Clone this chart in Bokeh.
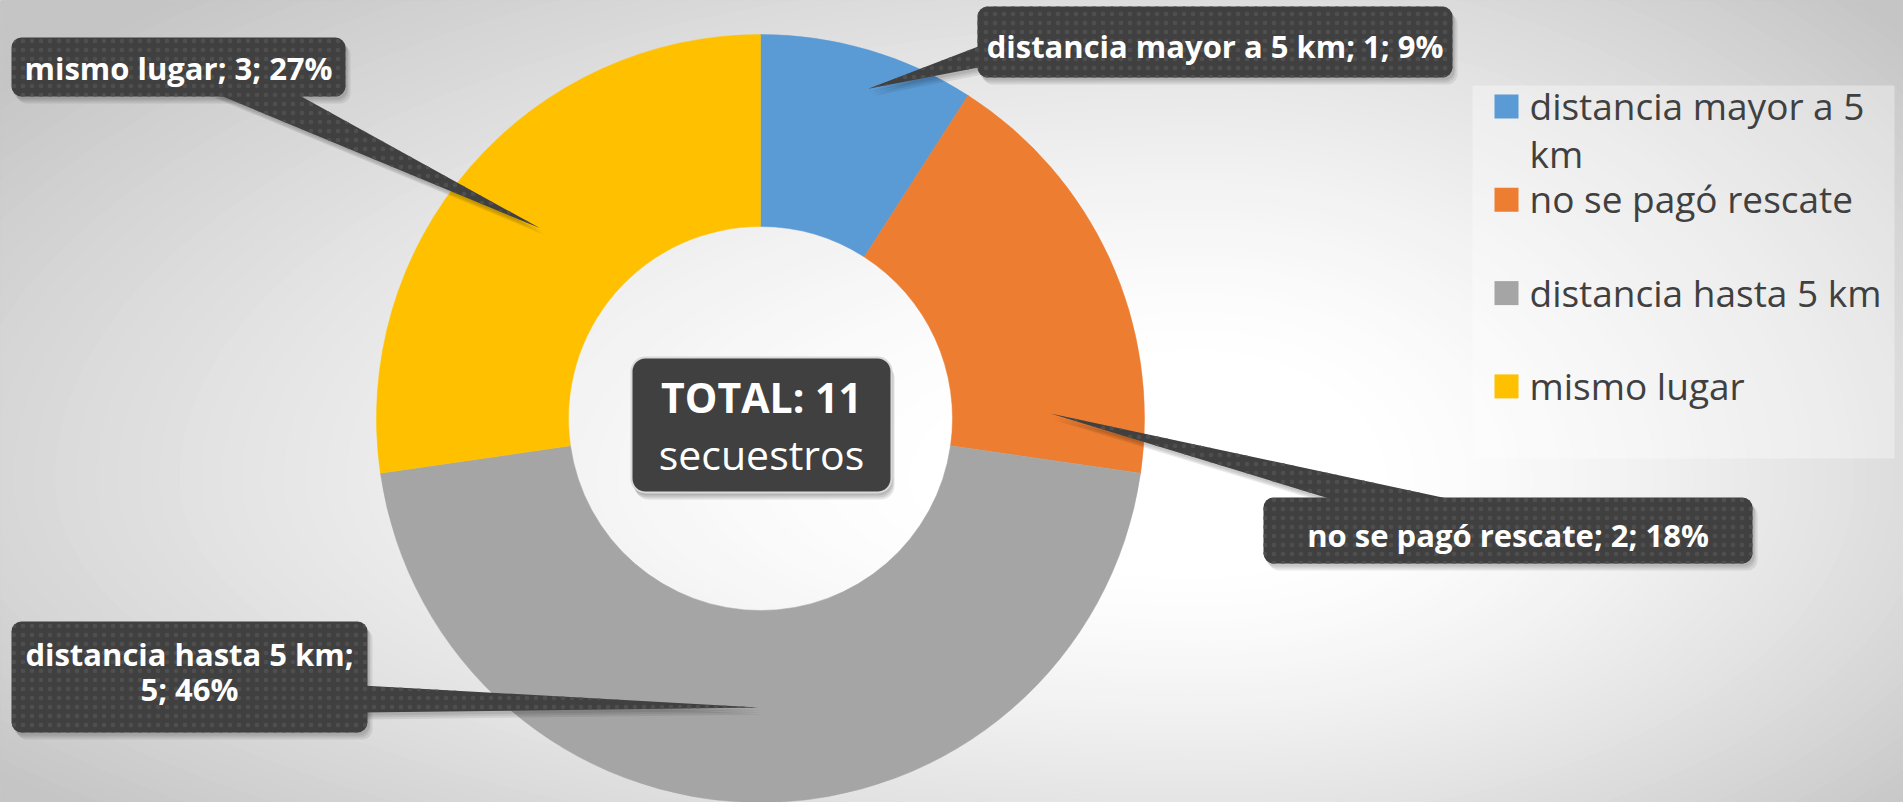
import math
import textwrap
import numpy as np
from bokeh.plotting import figure
from bokeh.models import Range1d, ColumnDataSource
from bokeh.embed import file_html
from bokeh.resources import INLINE
from bokeh.core.properties import value

# ---------------- data ----------------
categories = ["distancia mayor a 5 km", "no se pagó rescate", "distancia hasta 5 km", "mismo lugar"]
counts = [1, 2, 5, 3]
pct_labels = ["9%", "18%", "46%", "27%"]
slice_colors = ["#5B9BD5", "#ED7D31", "#A5A5A5", "#FFC000"]
center_unit = "secuestros"

# ---------------- layout (reference pixel coords, y downward) ----------------
REF_W, REF_H = 1903, 802
FIG_W, FIG_H = REF_W, REF_H
TEXT_DY = -13  # baseline correction for rendered text


def Y(v):
    return REF_H - v


def TY(v):
    return REF_H - (v + TEXT_DY)


CX, CY, R_OUT, R_IN = 760, 418, 384, 192
FONT = "Open Sans"
BOX_COLOR = "#404040"
DOT = dict(hatch_pattern="dot", hatch_color="#4f4f4f", hatch_scale=9, hatch_weight=1.5)

# callout layout per category: box (l, r, t, b), pointer base points, tip (angle cw from top, radius),
# wrap flag, text baselines
callouts = [
    dict(box=(977, 1452, 6, 77), base=((983, 44), (983, 66)), tip=(18.1, 347), wrap=False, base_y=[58]),
    dict(box=(1263, 1752, 497, 563), base=((1345, 503), (1470, 503)), tip=(89.0, 290), wrap=False, base_y=[547]),
    dict(box=(11, 367, 621, 732), base=((361, 685), (361, 712)), tip=(180.4, 289), wrap=True, base_y=[666, 701]),
    dict(box=(11, 345, 37, 96), base=((208, 90), (290, 90)), tip=(310.8, 291), wrap=False, base_y=[80]),
]

p = figure(width=FIG_W, height=FIG_H, output_backend="svg", toolbar_location=None,
           x_range=Range1d(0, REF_W), y_range=Range1d(0, REF_H),
           x_axis_type=None, y_axis_type=None, min_border=0)
p.grid.visible = False
p.outline_line_color = None

# ---------------- background gradient (asymmetric radial) ----------------
gcx, gcy = 1200, 480
rxL, rxR, ryT, ryB = 1250, 800, 560, 420


def shade(d):
    t = min(max((d - 0.2) / 1.0, 0.0), 1.0)
    v = int(round(255 - 58 * t ** 1.4))
    return "#%02x%02x%02x" % (v, v, v)


p.background_fill_color = shade(1.4)
levels = np.linspace(1.35, 0.2, 70)
th = np.linspace(0, 2 * np.pi, 100)
bxs, bys, bcs = [], [], []
for d in levels:
    xs = [gcx + (rxR if c >= 0 else rxL) * d * c for c in np.cos(th)]
    ys = [gcy + (ryB if s >= 0 else ryT) * d * s for s in np.sin(th)]
    bxs.append(xs)
    bys.append([Y(v) for v in ys])
    bcs.append(shade(d))
p.patches(xs=bxs, ys=bys, fill_color=bcs, line_color=None)

# legend panel
p.quad(left=1472, right=1894, top=Y(85), bottom=Y(458), fill_color="white", fill_alpha=0.35, line_color=None)

# ---------------- donut ----------------
total = sum(counts)
fr = np.array(counts, dtype=float) / total
cum = np.concatenate([[0.0], np.cumsum(fr)])
src = ColumnDataSource(dict(
    start=list(np.pi / 2 - 2 * np.pi * cum[1:]),
    end=list(np.pi / 2 - 2 * np.pi * cum[:-1]),
    color=slice_colors,
    cat=categories,
))
p.annular_wedge(x=CX, y=Y(CY), inner_radius=R_IN, outer_radius=R_OUT,
                start_angle="start", end_angle="end", fill_color="color",
                line_color="color", line_width=0.5, source=src)

# ---------------- callouts ----------------
ptr_xs, ptr_ys = [], []
box_l, box_r, box_t, box_b = [], [], [], []
lab_x, lab_y, lab_t = [], [], []
for cat, cnt, pct, co in zip(categories, counts, pct_labels, callouts):
    l, r, t, b = co["box"]
    a, rad = co["tip"]
    tx = CX + rad * math.sin(math.radians(a))
    ty = CY - rad * math.cos(math.radians(a))
    (b1x, b1y), (b2x, b2y) = co["base"]
    ptr_xs.append([b1x, b2x, tx])
    ptr_ys.append([Y(b1y), Y(b2y), Y(ty)])
    box_l.append(l); box_r.append(r); box_t.append(Y(t)); box_b.append(Y(b))
    if co["wrap"]:
        lines = [f"{cat};", f"{cnt}; {pct}"]
    else:
        lines = [f"{cat}; {cnt}; {pct}"]
    for ln, by in zip(lines, co["base_y"]):
        lab_x.append((l + r) / 2)
        lab_y.append(TY(by))
        lab_t.append(ln)

# shadows
for k, (dx, dy) in enumerate([(2, 3), (3, 5), (5, 7)]):
    p.patches(xs=[[x + dx for x in xs] for xs in ptr_xs], ys=[[y - dy for y in ys] for ys in ptr_ys],
              fill_color="black", fill_alpha=0.08, line_color=None)
    p.quad(left=[v + dx for v in box_l], right=[v + dx for v in box_r],
           top=[v - dy for v in box_t], bottom=[v - dy for v in box_b],
           fill_color="black", fill_alpha=0.08, line_color=None, border_radius=10)

p.patches(xs=ptr_xs, ys=ptr_ys, fill_color=BOX_COLOR, line_color=None, **DOT)
p.quad(left=box_l, right=box_r, top=box_t, bottom=box_b, fill_color=BOX_COLOR, line_color=None,
       border_radius=10, **DOT)
p.text(x=lab_x, y=lab_y, text=lab_t, text_align="center", text_baseline="alphabetic",
       text_color="white", text_font=value(FONT), text_font_style="bold", text_font_size="31px")

# ---------------- center total box ----------------
cl, cr, ct, cb = 631, 891, 357, 492
for dx, dy in [(1, 3), (2, 5), (3, 7)]:
    p.quad(left=cl + dx, right=cr + dx, top=Y(ct + dy), bottom=Y(cb + dy), fill_color="black",
           fill_alpha=0.1, line_color=None, border_radius=14)
p.quad(left=cl, right=cr, top=Y(ct), bottom=Y(cb), fill_color=BOX_COLOR, line_color="#d9d9d9",
       line_width=2, border_radius=14)
p.text(x=[(cl + cr) / 2], y=[TY(409)], text=[f"TOTAL: {total}"], text_align="center",
       text_baseline="alphabetic", text_color="white", text_font=value(FONT),
       text_font_style="bold", text_font_size="41px")
p.text(x=[(cl + cr) / 2], y=[TY(466)], text=[center_unit], text_align="center",
       text_baseline="alphabetic", text_color="white", text_font=value(FONT),
       text_font_size="41px")

# ---------------- legend ----------------
LEG_MX, LEG_SZ, LEG_TX, LEG_Y0, LEG_STEP, LEG_LINE = 1494, 24, 1529, 94, 93.3, 48
mk_l, mk_r, mk_t, mk_b = [], [], [], []
lg_x, lg_y, lg_t = [], [], []
for i, (cat, col) in enumerate(zip(categories, slice_colors)):
    top = LEG_Y0 + i * LEG_STEP
    mk_l.append(LEG_MX); mk_r.append(LEG_MX + LEG_SZ)
    mk_t.append(Y(top)); mk_b.append(Y(top + LEG_SZ))
    for j, ln in enumerate(textwrap.wrap(cat, 20)):
        lg_x.append(LEG_TX)
        lg_y.append(TY(top + LEG_SZ + j * LEG_LINE))
        lg_t.append(ln)
p.quad(left=mk_l, right=mk_r, top=mk_t, bottom=mk_b, fill_color=slice_colors, line_color=None)
p.text(x=lg_x, y=lg_y, text=lg_t, text_align="left", text_baseline="alphabetic",
       text_color="#404040", text_font=value(FONT), text_font_size="37px")

open("out.html", "w").write(file_html(p, INLINE))
